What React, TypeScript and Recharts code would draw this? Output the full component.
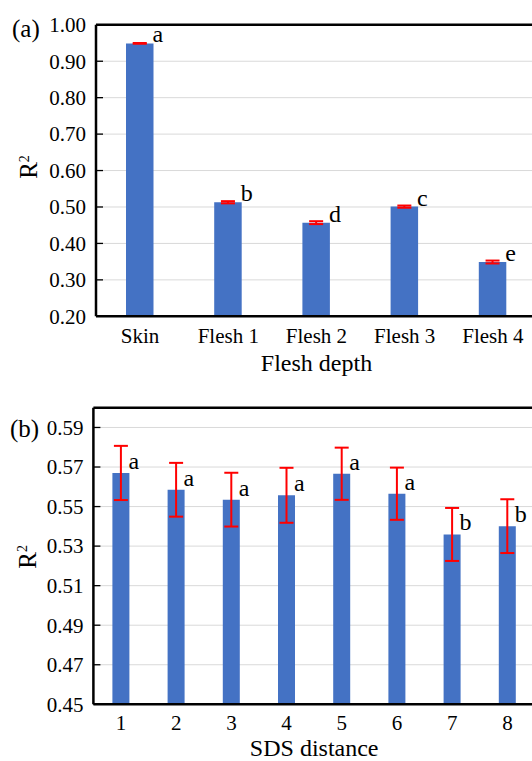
import { Bar, BarChart, CartesianGrid, ErrorBar, LabelList, ReferenceLine, XAxis, YAxis } from "recharts";

const FONT = "Liberation Serif, Times New Roman, DejaVu Serif, serif";
const BAR_COLOR = "#4472c4";
const ERR_COLOR = "#ff0000";

// (a) flesh depth
const FLESH_CATEGORIES = ["Skin", "Flesh 1", "Flesh 2", "Flesh 3", "Flesh 4"];
const FLESH_R2 = [0.949, 0.513, 0.457, 0.501, 0.349];
const FLESH_ERR = [0.001, 0.003, 0.004, 0.003, 0.004];
const FLESH_LETTERS = ["a", "b", "d", "c", "e"];
const FLESH_TICKS = [0.2, 0.3, 0.4, 0.5, 0.6, 0.7, 0.8, 0.9, 1.0];

// (b) SDS distance
const SDS_CATEGORIES = ["1", "2", "3", "4", "5", "6", "7", "8"];
const SDS_R2 = [0.567, 0.5585, 0.5535, 0.5557, 0.5666, 0.5565, 0.5359, 0.5401];
const SDS_ERR = [0.0137, 0.0136, 0.0136, 0.0139, 0.0132, 0.0132, 0.0134, 0.0136];
const SDS_LETTERS = ["a", "a", "a", "a", "a", "a", "b", "b"];
const SDS_TICKS = [0.45, 0.47, 0.49, 0.51, 0.53, 0.55, 0.57, 0.59];

const fleshData = FLESH_CATEGORIES.map((name, i) => ({
  name,
  r2: FLESH_R2[i],
  err: FLESH_ERR[i],
  letter: FLESH_LETTERS[i],
}));

const sdsData = SDS_CATEGORIES.map((name, i) => ({
  name,
  r2: SDS_R2[i],
  err: SDS_ERR[i],
  letter: SDS_LETTERS[i],
}));

const textStyle = { fontFamily: FONT };

function makeXTick(dy: number) {
  return (props: any) => {
    const { x, y, payload } = props;
    return (
      <text x={x} y={y + dy} textAnchor="middle" fontSize={21} style={textStyle} fill="#000">
        {payload.value}
      </text>
    );
  };
}

function YTick(props: any) {
  const { x, y, payload } = props;
  return (
    <g>
      <line x1={x} x2={x + 7} y1={y} y2={y} stroke="#000" strokeWidth={1.3} />
      <text x={x - 10} y={y} dy="0.35em" textAnchor="end" fontSize={21} style={textStyle} fill="#000">
        {Number(payload.value).toFixed(2)}
      </text>
    </g>
  );
}

function makeLetter(lift: number) {
  return (props: any) => {
    const vb = props.viewBox || {};
    const x = Number(props.x ?? vb.x);
    const y = Number(props.y ?? vb.y);
    const width = Number(props.width ?? vb.width);
    return (
      <text x={x + width - 1} y={y - lift} fontSize={24} style={textStyle} fill="#000">
        {props.value}
      </text>
    );
  };
}

const axisLine = { stroke: "#000", strokeWidth: 2.5 };

export default function App() {
  return (
    <div style={{ position: "absolute", left: 0, top: 0, width: 532, height: 761, overflow: "hidden", background: "#fff", fontFamily: FONT }}>
      <div style={{ position: "absolute", left: 0, top: 0 }}>
        <BarChart width={545} height={385} data={fleshData} margin={{ top: 24.8, right: 8, bottom: 0, left: 0 }}>
          <CartesianGrid stroke="#d9d9d9" vertical={false} />
          <XAxis
            dataKey="name"
            height={68.7}
            axisLine={axisLine}
            tickLine={false}
            tickSize={0}
            tickMargin={0}
            tick={makeXTick(27)}
            interval={0}
          />
          <YAxis
            width={96}
            domain={[0.2, 1.0]}
            ticks={FLESH_TICKS}
            axisLine={axisLine}
            tickLine={false}
            tickSize={0}
            tickMargin={0}
            tick={YTick}
            interval={0}
          />
          <ReferenceLine y={1.0} stroke="#000" strokeWidth={2.5} />
          <Bar dataKey="r2" fill={BAR_COLOR} barSize={27.5} isAnimationActive={false}>
            <ErrorBar dataKey="err" direction="y" width={7} stroke={ERR_COLOR} strokeWidth={2} isAnimationActive={false} />
            <LabelList dataKey="letter" content={makeLetter(1)} />
          </Bar>
        </BarChart>
      </div>

      <div style={{ position: "absolute", left: 0, top: 385 }}>
        <BarChart width={545} height={376} data={sdsData} margin={{ top: 22.7, right: 10, bottom: 0, left: 0 }}>
          <CartesianGrid stroke="#d9d9d9" vertical={false} />
          <XAxis
            dataKey="name"
            height={56.7}
            axisLine={axisLine}
            tickLine={false}
            tickSize={0}
            tickMargin={0}
            tick={makeXTick(25.5)}
            interval={0}
          />
          <YAxis
            width={93.4}
            domain={[0.45, 0.6]}
            ticks={SDS_TICKS}
            axisLine={axisLine}
            tickLine={false}
            tickSize={0}
            tickMargin={0}
            tick={YTick}
            interval={0}
          />
          <ReferenceLine y={0.6} stroke="#000" strokeWidth={2.5} />
          <Bar dataKey="r2" fill={BAR_COLOR} barSize={17} isAnimationActive={false}>
            <ErrorBar dataKey="err" direction="y" width={7} stroke={ERR_COLOR} strokeWidth={2} isAnimationActive={false} />
            <LabelList dataKey="letter" content={makeLetter(4)} />
          </Bar>
        </BarChart>
      </div>

      <svg width={532} height={761} style={{ position: "absolute", left: 0, top: 0, pointerEvents: "none", fontFamily: FONT }}>
        <g fill="#000">
          <text x={12} y={37} fontSize={25}>(a)</text>
          <text x={316.5} y={370.5} fontSize={24} textAnchor="middle">Flesh depth</text>
          <text transform="translate(37,167) rotate(-90)" fontSize={25} textAnchor="middle">
            R<tspan dy={-8.5} fontSize={14}>2</tspan>
          </text>

          <text x={10} y={436.5} fontSize={25}>(b)</text>
          <text x={314.2} y={755.7} fontSize={24} textAnchor="middle">SDS distance</text>
          <text transform="translate(35.6,556.8) rotate(-90)" fontSize={25} textAnchor="middle">
            R<tspan dy={-8.5} fontSize={14}>2</tspan>
          </text>
        </g>
      </svg>
    </div>
  );
}
